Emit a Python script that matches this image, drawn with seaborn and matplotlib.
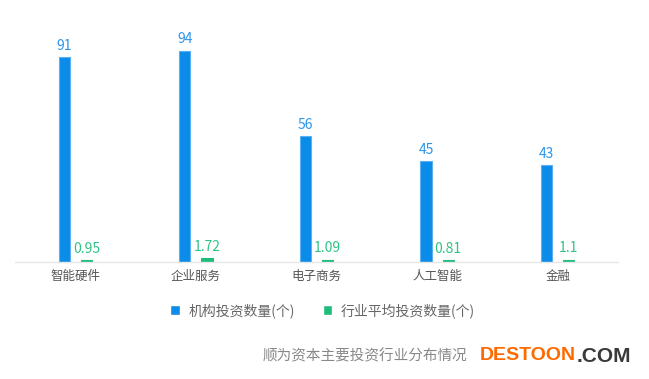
import numpy as np
import pandas as pd
import matplotlib
matplotlib.use("Agg")
import matplotlib.pyplot as plt
import seaborn as sns

categories = ["智能硬件", "企业服务", "电子商务", "人工智能", "金融"]
org_counts = [91, 94, 56, 45, 43]
avg_counts = [0.95, 1.72, 1.09, 0.81, 1.1]
series_names = ["机构投资数量(个)", "行业平均投资数量(个)"]

df = pd.DataFrame({
    "cat": categories * 2,
    "value": org_counts + avg_counts,
    "series": [series_names[0]] * 5 + [series_names[1]] * 5,
})

sns.set_style("white")
plt.rcParams['font.family'] = ['Noto Sans CJK SC', 'DejaVu Sans']

blue = "#0b8ce9"
green = "#1dbb7c"

fig = plt.figure(figsize=(6.49, 3.79), dpi=100)
ax = fig.add_axes([15 / 649, 1 - 262 / 379, 603 / 649, 225 / 379])

sns.barplot(data=df, x="cat", y="value", hue="series", palette=[blue, green],
            width=0.37, gap=0.5, ax=ax, saturation=1)

label_colors = ["#2b95ec", "#2ec486"]
edge_colors = ["#5ab0f0", green]
for cont, col, ec in zip(ax.containers, label_colors, edge_colors):
    for b in cont:
        b.set_edgecolor(ec)
        b.set_linewidth(0.8)
    labels = [f"{b.get_height():g}" for b in cont]
    ax.bar_label(cont, labels=labels, padding=3, color=col, fontsize=10)

ax.set_ylim(0, 100)
ax.set_xlim(-0.5, 4.5)
ax.set_xlabel("")
ax.set_ylabel("")
ax.set_yticks([])
ax.tick_params(axis="x", length=0, labelsize=9, labelcolor="#555555", pad=6)
for s in ["top", "right", "left"]:
    ax.spines[s].set_visible(False)
ax.spines["bottom"].set_color("#e6e6e6")
ax.spines["bottom"].set_linewidth(1)

sns.move_legend(ax, "center", bbox_to_anchor=(0.51, -0.215), ncol=2, frameon=False,
                title=None, fontsize=10, handlelength=0.7, handleheight=0.7,
                columnspacing=2.0, handletextpad=0.6, labelcolor="#666666")

fig.text(263 / 649, 1 - 356 / 379, "顺为资本主要投资行业分布情况", fontsize=10.5,
         color="#888888", style="italic", va="center", ha="left")
fig.text(480 / 649, 1 - 356 / 379, "DESTOON", fontsize=14, fontweight="bold",
         color="#ff6a00", va="center", ha="left", family="Liberation Sans")
fig.text(577 / 649, 1 - 356 / 379, ".COM", fontsize=15, fontweight="bold",
         color="#3a3a3a", va="center", ha="left", family="Liberation Sans")

fig.savefig("out.png", dpi=100)
